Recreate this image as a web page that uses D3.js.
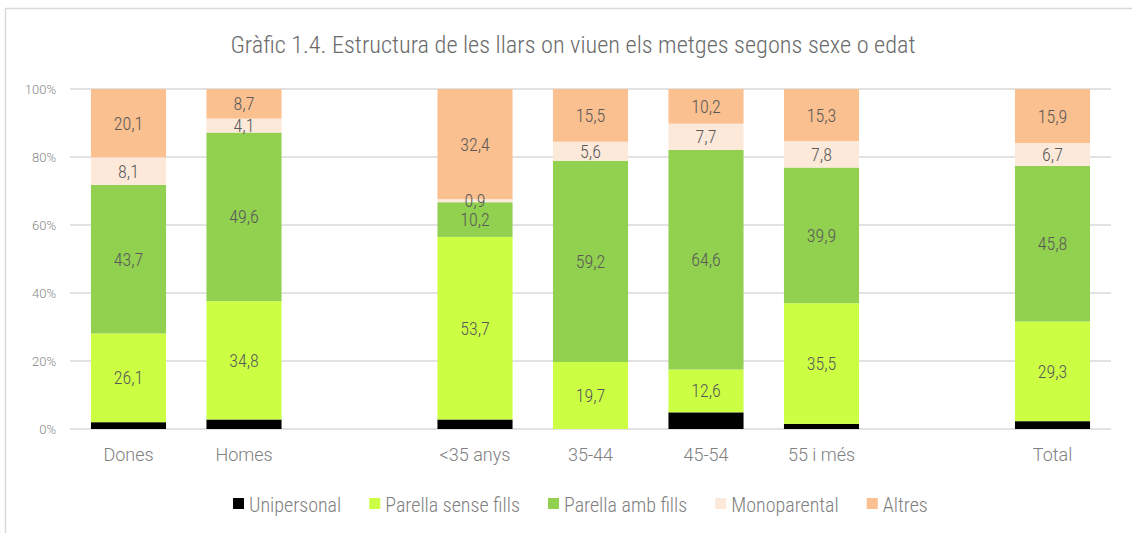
<!DOCTYPE html>
<html><head><meta charset="utf-8">
<script src="https://cdn.jsdelivr.net/npm/d3@7"></script>
<style>
body{margin:0;background:#fff;}
svg{display:block;}
text{font-family:"Roboto Condensed","Liberation Sans Narrow",sans-serif;font-weight:300;}
.wide{font-family:"Roboto",sans-serif;font-weight:300;}
</style></head>
<body>
<svg id="c" width="1132" height="533"></svg>
<script>
const categories = ["Dones","Homes","","<35 anys","35-44","45-54","55 i més","","Total"];
const seriesNames = ["Unipersonal","Parella sense fills","Parella amb fills","Monoparental","Altres"];
const colors = ["#000000","#ccff44","#92d050","#fde9d9","#fac090"];
const unipersonal   = [2.0, 2.8, null, 2.8, 0.0, 4.9, 1.5, null, 2.3];
const parellaSense  = [26.1, 34.8, null, 53.7, 19.7, 12.6, 35.5, null, 29.3];
const parellaAmb    = [43.7, 49.6, null, 10.2, 59.2, 64.6, 39.9, null, 45.8];
const monoparental  = [8.1, 4.1, null, 0.9, 5.6, 7.7, 7.8, null, 6.7];
const altres        = [20.1, 8.7, null, 32.4, 15.5, 10.2, 15.3, null, 15.9];
const yTicks = [0,20,40,60,80,100];
const title = "Gràfic 1.4. Estructura de les llars on viuen els metges segons sexe o edat";

const seriesValues = [unipersonal, parellaSense, parellaAmb, monoparental, altres];
const showLabels = [false, true, true, true, true];

const svg = d3.select("#c");
svg.append("path").attr("d","M5.5,533 V8.5 H1132").attr("fill","none").attr("stroke","#d9d9d9").attr("stroke-width",1.5);

svg.append("text").attr("x",573).attr("y",53).attr("text-anchor","middle")
  .attr("font-size",24.3).attr("fill","#6b6b6b").text(title);

const x = d3.scaleBand().domain(d3.range(categories.length)).range([70.75,1110.25]).paddingInner(0.35).paddingOuter(0.175);
const y = d3.scaleLinear().domain([0,100]).range([429,89]);

svg.append("g").selectAll("line").data(yTicks).join("line")
  .attr("x1",70).attr("x2",1111).attr("y1",d=>y(d)).attr("y2",d=>y(d))
  .attr("stroke","#d9d9d9").attr("stroke-width",1.5);

const yAxis = d3.axisLeft(y).tickValues(yTicks).tickFormat(d=>d+"%").tickSize(0).tickPadding(0);
const gy = svg.append("g").attr("transform","translate(56,0)").call(yAxis);
gy.select(".domain").remove();
gy.selectAll("text").attr("class","wide").attr("font-size",13).attr("fill","#888888");

const rows = categories.map((c,i)=>{const r={i}; seriesNames.forEach((s,k)=>r[s]=seriesValues[k][i]||0); return r;});
const stack = d3.stack().keys(seriesNames)(rows);

stack.forEach((layer,k)=>{
  const g = svg.append("g");
  layer.forEach((d,i)=>{
    const v = seriesValues[k][i];
    if(!v) return;
    g.append("rect").attr("x",x(i)).attr("width",x.bandwidth())
      .attr("y",y(d[1])).attr("height",y(d[0])-y(d[1])).attr("fill",colors[k]);
  });
});
stack.forEach((layer,k)=>{
  if(!showLabels[k]) return;
  layer.forEach((d,i)=>{
    const v = seriesValues[k][i];
    if(!v) return;
    svg.append("text").attr("x",x(i)+x.bandwidth()/2).attr("y",(y(d[0])+y(d[1]))/2+6.5)
      .attr("text-anchor","middle").attr("font-size",18).attr("fill","#595959")
      .text(d3.format(".1f")(v).replace(".",","));
  });
});

const xAxis = d3.axisBottom(x).tickFormat(i=>categories[i]).tickSize(0).tickPadding(0);
const gx = svg.append("g").attr("transform","translate(0,448)").call(xAxis);
gx.select(".domain").remove();
gx.selectAll("text").attr("class","wide").attr("font-size",18).attr("fill","#808080").attr("dy","0.71em");

const lg = svg.append("g");
let lx = 233;
seriesNames.forEach((s,k)=>{
  lg.append("rect").attr("x",lx).attr("y",498).attr("width",11).attr("height",11).attr("fill",colors[k]);
  const t = lg.append("text").attr("x",lx+16).attr("y",512)
    .attr("font-size",20).attr("fill","#808080").text(s);
  lx += 16 + t.node().getComputedTextLength() + 28;
});
</script>
</body></html>
